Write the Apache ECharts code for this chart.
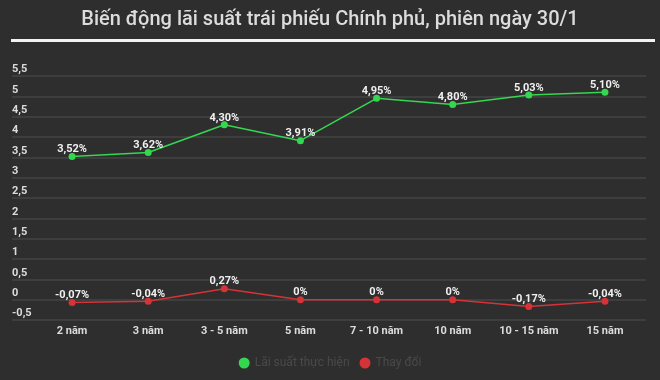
<!DOCTYPE html>
<html>
<head>
<meta charset="utf-8">
<script src="https://cdn.jsdelivr.net/npm/echarts@6/dist/echarts.min.js"></script>
<style>
  html, body { margin: 0; padding: 0; background: #2e2e2e; }
  #chart { width: 660px; height: 380px; }
</style>
</head>
<body>
<div id="chart"></div>
<script>
// data
const categories = ['2 năm', '3 năm', '3 - 5 năm', '5 năm', '7 - 10 năm', '10 năm', '10 - 15 năm', '15 năm'];
const laiSuat = [3.52, 3.62, 4.30, 3.91, 4.95, 4.80, 5.03, 5.10];
const thayDoi = [-0.07, -0.04, 0.27, 0, 0, 0, -0.17, -0.04];
const yTicks = [-0.5, 0, 0.5, 1, 1.5, 2, 2.5, 3, 3.5, 4, 4.5, 5, 5.5];

const chart = echarts.init(document.getElementById('chart'));
const fontMain = 'Roboto, "Noto Sans", sans-serif';
const fmt = v => String(v).replace('.', ',');
const pct = p => {
  const v = p.value;
  if (v === 0) return '0%';
  return v.toFixed(2).replace('.', ',') + '%';
};

const option = {
  backgroundColor: '#2e2e2e',
  title: {
    text: 'Biến động lãi suất trái phiếu Chính phủ, phiên ngày 30/1',
    left: 'center',
    top: 5,
    textStyle: {
      color: '#dcdcdc',
      fontSize: 20,
      fontWeight: 500,
      fontFamily: fontMain
    }
  },
  graphic: [{
    type: 'rect',
    shape: { x: 11, y: 39, width: 644, height: 3 },
    style: { fill: '#f2f2f2' }
  }],
  legend: {
    bottom: 6,
    left: 'center',
    icon: 'circle',
    itemWidth: 11,
    itemHeight: 11,
    itemGap: 10,
    textStyle: { color: '#4a4a4a', fontSize: 12, fontFamily: fontMain },
    data: ['Lãi suất thực hiện', 'Thay đổi']
  },
  grid: [
    { left: 12, right: 14, top: 76, bottom: 60 },
    { left: 34, right: 17, top: 76, bottom: 60 }
  ],
  xAxis: [
    { gridIndex: 0, type: 'value', show: false, min: 0, max: 1 },
    {
      gridIndex: 1,
      type: 'category',
      data: categories,
      boundaryGap: true,
      axisLine: { show: false },
      axisTick: { show: false },
      axisLabel: {
        interval: 0,
        color: '#dcdcdc',
        fontSize: 11,
        fontWeight: 'bold',
        fontFamily: fontMain,
        margin: 6
      }
    }
  ],
  yAxis: [
    {
      gridIndex: 0,
      type: 'value',
      min: yTicks[0],
      max: yTicks[yTicks.length - 1],
      interval: 0.5,
      axisLine: { show: false },
      axisTick: { show: false },
      splitLine: { lineStyle: { color: '#444444', width: 1.5 } },
      axisLabel: {
        inside: true,
        color: '#dcdcdc',
        fontSize: 11,
        fontWeight: 'bold',
        fontFamily: fontMain,
        verticalAlign: 'bottom',
        margin: 0,
        padding: [0, 0, 1, 0],
        formatter: v => fmt(v)
      }
    },
    {
      gridIndex: 1,
      type: 'value',
      min: yTicks[0],
      max: yTicks[yTicks.length - 1],
      interval: 0.5,
      show: false
    }
  ],
  series: [
    {
      name: 'Lãi suất thực hiện',
      type: 'line',
      xAxisIndex: 1,
      yAxisIndex: 1,
      data: laiSuat,
      color: '#35d650',
      symbol: 'circle',
      symbolSize: 7,
      lineStyle: { width: 1.5 },
      label: {
        show: true,
        position: 'top',
        distance: -2,
        color: '#f0f0f0',
        fontSize: 11,
        fontWeight: 'bold',
        fontFamily: fontMain,
        formatter: pct
      }
    },
    {
      name: 'Thay đổi',
      type: 'line',
      xAxisIndex: 1,
      yAxisIndex: 1,
      data: thayDoi,
      color: '#d63339',
      symbol: 'circle',
      symbolSize: 7,
      lineStyle: { width: 1.5 },
      label: {
        show: true,
        position: 'top',
        distance: -2,
        color: '#f0f0f0',
        fontSize: 11,
        fontWeight: 'bold',
        fontFamily: fontMain,
        formatter: pct
      }
    }
  ]
};
chart.setOption(option);
</script>
</body>
</html>
